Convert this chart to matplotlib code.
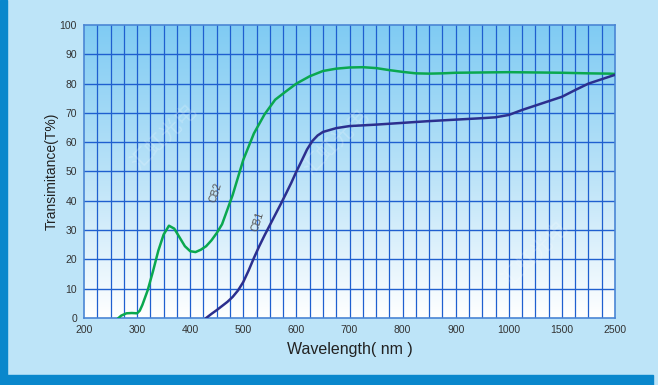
import numpy as np
import matplotlib.pyplot as plt
from matplotlib.colors import LinearSegmentedColormap
from matplotlib.patches import Rectangle

plt.rcParams['font.family'] = ['Liberation Sans', 'Noto Sans CJK SC', 'DejaVu Sans']

# wavelength axis is piecewise: 25 nm per cell up to 1000, then 125, then 250
scale_nm = [200, 1000, 1500, 2500]
scale_u = [0, 32, 36, 40]

def to_u(w):
    return np.interp(w, scale_nm, scale_u)

tick_nm = [200, 300, 400, 500, 600, 700, 800, 900, 1000, 1500, 2500]
tick_labels = [str(t) for t in tick_nm]
yticks = list(range(0, 101, 10))

# CB2 (green)
cb2_nm = [265, 270, 280, 290, 300, 305, 310, 320, 330, 340, 350, 360, 370, 380, 390,
          400, 410, 420, 430, 440, 450, 460, 470, 480, 490, 500, 520, 540, 560, 580,
          600, 625, 650, 675, 700, 725, 750, 775, 800, 825, 850, 875, 900, 950, 1000,
          1250, 1500, 2000, 2400, 2500]
cb2_t = [0, 0.8, 1.6, 1.7, 1.6, 2.5, 4.5, 9.5, 16, 23, 28.5, 31.5, 30.5, 27.5, 24.5,
         22.8, 22.5, 23.3, 24.5, 26.5, 29, 32, 37, 42, 48, 54, 63, 69.5, 74.5, 77.3,
         80, 82.5, 84.3, 85.1, 85.5, 85.6, 85.3, 84.6, 84, 83.5, 83.4, 83.5, 83.7, 83.8, 83.9,
         83.8, 83.7, 83.5, 83.4, 83.3]

# CB1 (dark blue)
cb1_nm = [430, 440, 450, 460, 470, 480, 490, 500, 510, 520, 530, 540, 550, 560, 570,
          580, 590, 600, 610, 620, 630, 640, 650, 675, 700, 750, 800, 850, 900, 950,
          975, 1000, 1125, 1250, 1375, 1500, 1750, 2000, 2250, 2500]
cb1_t = [0, 1.4, 2.7, 4.1, 5.5, 7.2, 9.4, 12.3, 16.2, 20.5, 24.5, 28.2, 31.7, 35.2, 38.7,
         42.3, 46, 50, 53.7, 57.5, 60.4, 62.3, 63.5, 64.8, 65.5, 66, 66.6, 67.2, 67.7, 68.2,
         68.5, 69.3, 71, 72.5, 74, 75.5, 77.8, 80, 81.5, 83]

fig = plt.figure(figsize=(6.58, 3.85), dpi=100)
fig.patch.set_facecolor('#bde4f8')

# dark blue frame bars
fig.patches.append(Rectangle((0, 0), 7/658, 1, transform=fig.transFigure,
                             color='#0a87cc', zorder=0))
fig.patches.append(Rectangle((0, 0), 653/658, 10/385, transform=fig.transFigure,
                             color='#0a87cc', zorder=0))

ax = fig.add_axes([84/658, 67/385, 531/658, 293/385])

# background gradient
cmap = LinearSegmentedColormap.from_list('bg', ['#ffffff', '#b9e2f8', '#7fcbf3'])
grad = np.linspace(0, 1, 256).reshape(-1, 1)
ax.imshow(grad, extent=[0, 40, 0, 100], origin='lower', aspect='auto',
          cmap=cmap, zorder=0)

# grid
for u in range(1, 40):
    ax.axvline(u, color='#1f5fcf', lw=0.9, zorder=1)
for y in yticks[1:-1]:
    ax.axhline(y, color='#1f5fcf', lw=1.0, zorder=1)

# faint watermark
for (wx, wy) in [(6, 62), (19, 60), (34, 22)]:
    ax.text(wx, wy, '汇虹光电', rotation=45, fontsize=15, color='white', alpha=0.2,
            ha='center', va='center', zorder=1.5,
            family=['Noto Sans CJK SC', 'DejaVu Sans'])

ax.plot(to_u(cb2_nm), cb2_t, color='#0aa84f', lw=1.8, zorder=3)
ax.plot(to_u(cb1_nm), cb1_t, color='#2c2f8e', lw=1.8, zorder=3)

ax.text(to_u(448), 43, 'CB2', rotation=72, fontsize=7.5, color='#555555',
        ha='center', va='center', zorder=4)
ax.text(to_u(528), 33, 'CB1', rotation=72, fontsize=7.5, color='#555555',
        ha='center', va='center', zorder=4)

ax.set_xlim(0, 40)
ax.set_ylim(0, 100)
ax.set_xticks(to_u(tick_nm))
ax.set_xticklabels(tick_labels)
ax.set_yticks(yticks)
ax.tick_params(length=0, labelsize=7.5, colors='#333333', pad=5)
for s in ax.spines.values():
    s.set_color('#4a86d4')
    s.set_linewidth(1.2)

ax.set_xlabel('Wavelength( nm )', fontsize=11.5, color='#222222', labelpad=5)
ax.set_ylabel('Transimitance(T%)', fontsize=10, color='#222222', labelpad=1)

fig.savefig('out.png', dpi=100, facecolor=fig.get_facecolor())
